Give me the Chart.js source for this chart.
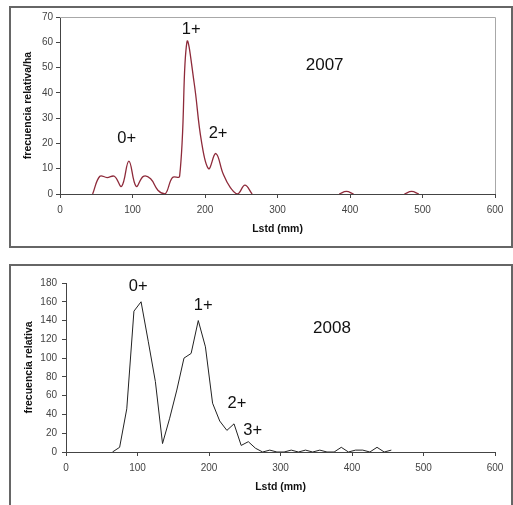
<!DOCTYPE html>
<html>
<head>
<meta charset="utf-8">
<script src="https://cdn.jsdelivr.net/npm/chart.js@4.4.0/dist/chart.umd.min.js"></script>
<style>
  body { margin: 0; background: #fff; width: 513px; height: 505px; overflow: hidden; position: relative; }
  .marco { position: absolute; box-sizing: border-box; border: 2px solid #666; }
  canvas { position: absolute; left: 0; }
</style>
</head>
<body>
<div class="marco" style="left:9px; top:6px; width:504px; height:242px;"></div>
<div class="marco" style="left:9px; top:264px; width:504px; height:260px;"></div>
<canvas id="chart2007" width="513" height="247" style="top:0px;"></canvas>
<canvas id="chart2008" width="513" height="240" style="top:265px;"></canvas>
<script>
const longitud2007 = [45, 55, 65, 75, 85, 95, 105, 115, 125, 135, 145, 155, 165, 175, 185, 195, 205, 215, 225, 235, 245, 255, 265, 325, 385, 395, 405, 445, 475, 485, 495];
const frecuencia2007 = [0, 7, 6.5, 7, 3, 13, 3, 7, 6, 1.5, 0, 6.5, 7, 60, 44, 21, 10, 16, 8, 2.5, 0, 3.5, 0, null, 0, 1, 0, null, 0, 1, 0];

// Longitudes (mm) y frecuencias del grafico 2008
const longitud2008 = [65, 75, 85, 95, 105, 115, 125, 135, 145, 155, 165, 175, 185, 195, 205, 215, 225, 235, 245, 255, 265, 275, 285, 295, 305, 315, 325, 335, 345, 355, 365, 375, 385, 395, 405, 415, 425, 435, 445, 455];
const frecuencia2008 = [0, 5, 46, 150, 160, 118, 75, 9, 36, 66, 100, 105, 140, 112, 52, 33, 23, 30, 7, 11, 4, 0, 2, 0, 0, 2, 0, 2, 0, 2, 0, 0, 5, 0, 2, 2, 0, 5, 0, 2];

// Marcas de ejes
const ticksX = [0, 100, 200, 300, 400, 500, 600];
const maxY2007 = 70, pasoY2007 = 10;
const maxY2008 = 180, pasoY2008 = 20;

// Etiquetas de cohortes (en coordenadas de datos)
const etiquetas2007 = [
  { text: '0+', x: 92, y: 22 },
  { text: '1+', x: 181, y: 65 },
  { text: '2+', x: 218, y: 24 },
  { text: '2007', x: 365, y: 51 }
];
const etiquetas2008 = [
  { text: '0+', x: 101, y: 176 },
  { text: '1+', x: 192, y: 156 },
  { text: '2+', x: 239, y: 52 },
  { text: '3+', x: 261, y: 23 },
  { text: '2008', x: 372, y: 132 }
];

const fuente = '"Liberation Sans", Arial, sans-serif';

function puntos(xs, ys) {
  return xs.map((x, i) => ({ x: x, y: ys[i] }));
}

// dibuja textos libres sobre el grafico
const textosPlugin = {
  id: 'textos',
  afterDraw(chart, args, opts) {
    const ctx = chart.ctx;
    const sx = chart.scales.x, sy = chart.scales.y;
    ctx.save();
    ctx.fillStyle = '#111';
    ctx.textAlign = 'center';
    ctx.textBaseline = 'middle';
    for (const e of opts.items) {
      ctx.font = (e.text.length > 2 ? 17 : 16.5) + 'px ' + fuente;
      ctx.fillText(e.text, sx.getPixelForValue(e.x), sy.getPixelForValue(e.y));
    }
    ctx.restore();
  }
};

// marco gris del area de trazado (solo 2007)
const areaPlugin = {
  id: 'area',
  beforeDatasetsDraw(chart, args, opts) {
    if (!opts.display) return;
    const a = chart.chartArea;
    const ctx = chart.ctx;
    ctx.save();
    ctx.strokeStyle = '#a8a8a8';
    ctx.lineWidth = 1;
    ctx.beginPath();
    ctx.moveTo(a.left, a.top + 0.5);
    ctx.lineTo(a.right + 0.5, a.top + 0.5);
    ctx.lineTo(a.right + 0.5, a.bottom);
    ctx.stroke();
    ctx.restore();
  }
};

function crearGrafico(id, datos, color, tension, cfg) {
  return new Chart(document.getElementById(id), {
    type: 'line',
    data: {
      datasets: [{
        data: datos,
        borderColor: color,
        borderWidth: cfg.grosor,
        pointRadius: 0,
        tension: tension,
        spanGaps: false
      }]
    },
    options: {
      responsive: false,
      animation: false,
      layout: { padding: { left: 18, top: cfg.arriba, right: 18, bottom: 0 } },
      scales: {
        x: {
          type: 'linear',
          min: 0,
          max: 600,
          afterBuildTicks: s => { s.ticks = ticksX.map(v => ({ value: v })); },
          afterFit: s => { s.height = cfg.altoX; },
          border: { display: true, color: '#444', width: 1 },
          grid: { drawOnChartArea: false, drawTicks: true, tickLength: 4, color: '#444' },
          ticks: { color: '#444', padding: 6, maxRotation: 0, font: { family: fuente, size: 10 } },
          title: {
            display: true,
            text: 'Lstd (mm)',
            color: '#111',
            padding: { top: 0, bottom: 12 },
            font: { family: fuente, size: 10.5, weight: 'bold' }
          }
        },
        y: {
          min: 0,
          max: cfg.maxY,
          ticks: { stepSize: cfg.pasoY, color: '#444', padding: cfg.padY, font: { family: fuente, size: 10 } },
          afterFit: s => { s.width = cfg.anchoY; },
          border: { display: true, color: '#444', width: 1 },
          grid: { drawOnChartArea: false, drawTicks: true, tickLength: 4, color: '#444' },
          title: {
            display: true,
            text: cfg.tituloY,
            color: '#111',
            padding: { top: cfg.padTitulo, bottom: 0 },
            font: { family: fuente, size: 10.5, weight: 'bold' }
          }
        }
      },
      plugins: {
        legend: { display: false },
        tooltip: { enabled: false },
        textos: { items: cfg.etiquetas },
        area: { display: cfg.marco }
      }
    },
    plugins: [areaPlugin, textosPlugin]
  });
}

crearGrafico('chart2007', puntos(longitud2007, frecuencia2007), '#8e2a3a', 0.4, {
  arriba: 17, altoX: 53, anchoY: 42, maxY: maxY2007, pasoY: pasoY2007, padY: 3,
  tituloY: 'frecuencia relativa/ha', padTitulo: 4, etiquetas: etiquetas2007, marco: true, grosor: 1.3
});

crearGrafico('chart2008', puntos(longitud2008, frecuencia2008), '#222', 0, {
  arriba: 18, altoX: 53, anchoY: 48, maxY: maxY2008, pasoY: pasoY2008, padY: 5,
  tituloY: 'frecuencia relativa', padTitulo: 5, etiquetas: etiquetas2008, marco: false, grosor: 1
});
</script>
</body>
</html>
